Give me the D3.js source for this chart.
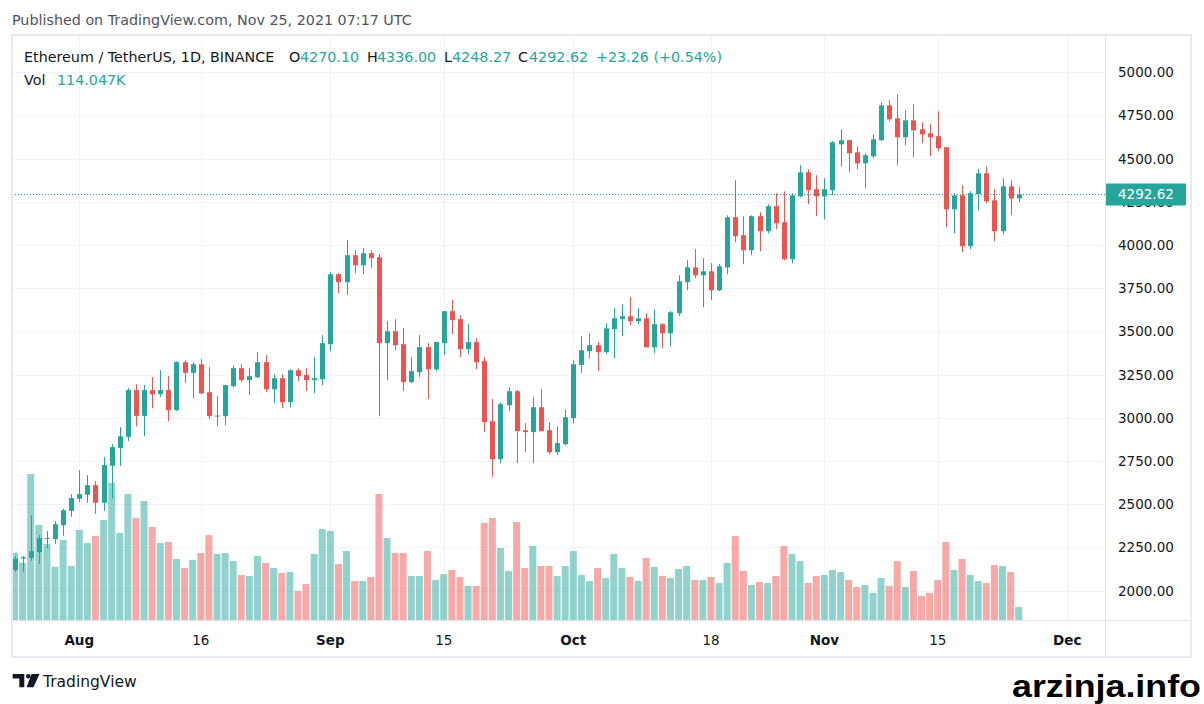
<!DOCTYPE html>
<html><head>
<meta charset="utf-8"/>
<title>ETH/USDT 1D</title>
<script src="https://d3js.org/d3.v7.min.js"></script>
<style>
  body {margin:0; padding:0; width:1204px; height:704px; background:#fff; overflow:hidden;}
  svg text {font-family: 'DejaVu Sans', sans-serif;}
</style>
</head>
<body>
<div id="chart"></div>
<script>
// ETH/USDT daily candles, Jul 24 - Nov 25 2021
const firstDay = Date.UTC(2021, 6, 24);
const lastDay = Date.UTC(2021, 10, 26);

const opens = [
  2118,2185,2189,2222,2298,2297,2378,2461,
  2531,2554,2610,2508,2722,2826,2890,3160,3011,3160,
  3136,3160,3044,3322,3260,3310,3148,3009,3009,3183,
  3287,3218,3235,3322,3165,3229,3090,3275,3247,3218,3223,
  3426,3831,3785,3941,3883,3953,3929,3432,3501,3426,
  3206,3264,3409,3281,3432,3617,3571,3397,3438,3328,
  2980,2760,3073,3154,2928,2917,3061,2928,2801,2847,
  2998,3306,3385,3420,3380,3513,3571,3588,3559,3576,
  3408,3542,3489,3605,3785,3871,3825,3848,3738,3871,
  4161,4057,3970,4167,4080,4225,4132,3918,4282,4421,4323,
  4282,4317,4583,4607,4537,4473,4514,4607,4809,4734,
  4624,4722,4670,4647,4630,4566,4207,4288,3993,4294,
  4415,4259,4080,4340,4270.10
];
const highs = [
  2199,2199,2436,2320,2344,2402,2473,2558,
  2697,2668,2633,2772,2847,2946,3171,3194,3189,3235,
  3275,3241,3327,3333,3322,3339,3293,3125,3189,3304,
  3310,3287,3380,3362,3252,3252,3281,3287,3287,3351,3478,
  3843,3837,4028,3970,3982,3970,3947,3559,3571,3519,
  3351,3478,3432,3438,3617,3681,3594,3542,3461,3351,
  3108,3090,3177,3160,2969,3119,3166,2975,2951,3050,
  3333,3472,3489,3438,3547,3634,3657,3698,3634,3605,
  3628,3547,3617,3825,3912,3976,3924,3895,3889,4172,
  4375,4167,4172,4190,4236,4300,4311,4300,4462,4439,4404,
  4387,4601,4670,4607,4572,4531,4641,4826,4838,4873,
  4780,4815,4711,4699,4774,4566,4300,4346,4311,4439,
  4456,4323,4387,4375,4336.00
];
const lows = [
  2108,2108,2172,2153,2245,2270,2317,2427,
  2511,2508,2444,2461,2531,2722,2866,2951,2893,3055,
  3121,2980,3038,3202,3113,3136,2992,2951,2957,3177,
  3206,3131,3229,3148,3084,3055,3061,3212,3154,3142,3189,
  3387,3721,3710,3837,3831,3866,3009,3218,3391,3154,
  3200,3235,3108,3270,3362,3484,3351,3368,3281,2917,
  2656,2737,3038,2737,2801,2737,2922,2789,2784,2841,
  2969,3260,3345,3270,3368,3345,3472,3536,3542,3408,
  3374,3403,3414,3588,3738,3808,3640,3681,3733,3831,
  4016,3889,3941,3964,4068,4091,3912,3895,4277,4236,4167,
  4149,4288,4456,4421,4439,4329,4502,4601,4716,4462,
  4578,4508,4589,4514,4543,4103,4068,3958,3976,4201,
  4242,4022,4062,4172,4248.27
];
const closes = [
  2185,2193,2228,2303,2303,2384,2465,2535,
  2558,2610,2508,2726,2830,2893,3160,3011,3160,3136,
  3160,3044,3322,3260,3310,3142,3009,3013,3189,3287,
  3218,3241,3322,3165,3229,3090,3275,3241,3218,3229,3432,
  3831,3785,3941,3883,3953,3924,3432,3501,3420,3206,
  3270,3409,3281,3438,3617,3565,3397,3438,3322,2975,
  2760,3079,3154,2923,2917,3061,2922,2801,2853,3003,
  3310,3391,3420,3380,3518,3576,3588,3559,3576,3408,
  3542,3489,3611,3790,3871,3825,3848,3738,3877,4161,
  4051,3970,4167,4080,4225,4126,3918,4288,4421,4317,4282,
  4323,4595,4607,4531,4473,4520,4612,4809,4728,4624,
  4722,4664,4641,4624,4560,4207,4288,3993,4300,4415,
  4253,4080,4340,4269.36,4292.62
];
// volume in thousands of ETH
const volumes = [
  590,503,1280,833,667,465,702,474,
  789,675,737,877,1202,763,1105,895,1044,816,
  675,684,535,456,526,588,745,579,588,517,
  395,386,561,500,456,412,421,254,316,579,798,
  781,491,605,342,342,377,1105,719,588,588,
  386,386,605,351,403,439,377,298,298,851,
  895,631,430,859,456,649,474,474,386,474,
  605,395,342,456,368,579,456,377,342,544,
  465,386,368,447,474,351,351,377,324,500,
  737,430,307,333,324,386,649,579,517,324,386,
  395,439,421,351,289,307,237,368,298,517,
  289,430,210,237,351,684,439,535,395,342,
  324,482,474,421,114.047
];

const priceTicks = [2000,2250,2500,2750,3000,3250,3500,3750,4000,4250,4500,4750,5000];
const timeTicks = ["2021-08-01","2021-08-16","2021-09-01","2021-09-15","2021-10-01","2021-10-18","2021-11-01","2021-11-15","2021-12-01"];
const timeLabels = ["Aug","16","Sep","15","Oct","18","Nov","15","Dec"];
const monthTick = [true,false,true,false,true,false,true,false,true];

const UP = "#26a69a", DOWN = "#ef5350";
const UP_VOL = "rgba(38,166,154,0.5)", DOWN_VOL = "rgba(239,83,80,0.5)";
const TEXT = "#131722";

const days = d3.utcDay.range(firstDay, lastDay);
const candles = days.map((d, i) => ({
  date: d, o: opens[i], h: highs[i], l: lows[i], c: closes[i], v: volumes[i]
}));

// frame geometry
const frame = {left: 12, top: 35, right: 1191, bottom: 657};
const plotRight = 1105, plotBottom = 620;

const x = d3.scaleUtc()
  .domain([new Date("2021-08-01T00:00Z"), new Date("2021-12-01T00:00Z")])
  .range([79.3, 1067.3]);
const y = d3.scaleLinear().domain([2000, 5000]).range([590.5, 72.3]);
const yVol = d3.scaleLinear().domain([0, 1500]).range([plotBottom, plotBottom - 171]);

const svg = d3.select("#chart").append("svg")
  .attr("width", 1204).attr("height", 704);

svg.append("defs").append("clipPath").attr("id", "plot")
  .append("rect")
  .attr("x", frame.left + 1).attr("y", frame.top + 1)
  .attr("width", plotRight - frame.left - 1).attr("height", plotBottom - frame.top - 1);

// header
svg.append("text")
  .attr("x", 12).attr("y", 25)
  .style("font-size", "14.3px").attr("fill", "#50535e")
  .text("Published on TradingView.com, Nov 25, 2021 07:17 UTC");

// grid
const grid = svg.append("g").attr("clip-path", "url(#plot)");
grid.selectAll(".hg").data(priceTicks).enter().append("line")
  .attr("x1", frame.left).attr("x2", plotRight)
  .attr("y1", d => Math.round(y(d)) + 0.5).attr("y2", d => Math.round(y(d)) + 0.5)
  .attr("stroke", "#f0f3fa");
grid.selectAll(".vg").data(timeTicks).enter().append("line")
  .attr("x1", d => Math.round(x(new Date(d + "T00:00Z"))) + 0.5)
  .attr("x2", d => Math.round(x(new Date(d + "T00:00Z"))) + 0.5)
  .attr("y1", frame.top).attr("y2", plotBottom)
  .attr("stroke", "#f0f3fa");

const plot = svg.append("g").attr("clip-path", "url(#plot)");

// volume bars
plot.selectAll(".vol").data(candles).enter().append("rect")
  .attr("x", d => x(d.date) - 3.5)
  .attr("width", 7)
  .attr("y", d => yVol(d.v))
  .attr("height", d => yVol(0) - yVol(d.v))
  .attr("fill", d => d.c >= d.o ? UP_VOL : DOWN_VOL);

// wicks
plot.selectAll(".wick").data(candles).enter().append("line")
  .attr("x1", d => Math.round(x(d.date)) + 0.5)
  .attr("x2", d => Math.round(x(d.date)) + 0.5)
  .attr("y1", d => y(d.h)).attr("y2", d => y(d.l))
  .attr("stroke", d => d.c >= d.o ? UP : DOWN)
  .attr("stroke-width", 1);

// bodies
plot.selectAll(".body").data(candles).enter().append("rect")
  .attr("x", d => Math.round(x(d.date)) - 2)
  .attr("width", 5)
  .attr("y", d => y(Math.max(d.o, d.c)))
  .attr("height", d => Math.max(1, Math.abs(y(d.o) - y(d.c))))
  .attr("fill", d => d.c >= d.o ? UP : DOWN);

const last = candles[candles.length - 1];
const prev = candles[candles.length - 2];

// last price dotted line
svg.append("line")
  .attr("x1", frame.left).attr("x2", plotRight)
  .attr("y1", Math.round(y(last.c)) + 0.5).attr("y2", Math.round(y(last.c)) + 0.5)
  .attr("stroke", UP).attr("stroke-dasharray", "1,2");

// frame and separators
svg.append("rect")
  .attr("x", frame.left).attr("y", frame.top)
  .attr("width", frame.right - frame.left).attr("height", frame.bottom - frame.top)
  .attr("fill", "none").attr("stroke", "#e0e3eb").attr("stroke-width", 1.5);
svg.append("line")
  .attr("x1", plotRight + 0.5).attr("x2", plotRight + 0.5)
  .attr("y1", frame.top).attr("y2", frame.bottom)
  .attr("stroke", "#e0e3eb");
svg.append("line")
  .attr("x1", frame.left).attr("x2", frame.right)
  .attr("y1", plotBottom + 0.5).attr("y2", plotBottom + 0.5)
  .attr("stroke", "#e0e3eb");

// price axis labels
svg.selectAll(".pl").data(priceTicks).enter().append("text")
  .attr("x", 1118).attr("y", d => y(d) + 5)
  .style("font-size", "13.5px").attr("fill", TEXT)
  .text(d => d3.format(".2f")(d));

// last price tag
svg.append("rect")
  .attr("x", plotRight + 1).attr("y", y(last.c) - 11)
  .attr("width", 80).attr("height", 22)
  .attr("rx", 1).attr("fill", UP);
svg.append("text")
  .attr("x", 1118).attr("y", y(last.c) + 5)
  .style("font-size", "13.5px").attr("fill", "#fff")
  .text(d3.format(".2f")(last.c));

// time axis labels
svg.selectAll(".tl").data(timeTicks).enter().append("text")
  .attr("x", d => x(new Date(d + "T00:00Z")))
  .attr("y", 645)
  .attr("text-anchor", "middle")
  .style("font-size", "13.5px")
  .style("font-weight", (d, i) => monthTick[i] ? "bold" : "normal")
  .attr("fill", TEXT)
  .text((d, i) => timeLabels[i]);

// legend
const fmt = d3.format(".2f");
const chg = last.c - prev.c;
const legend = [
  {x: 24, t: "Ethereum / TetherUS, 1D, BINANCE", c: TEXT},
  {x: 289, t: "O", c: TEXT}, {x: 300, t: fmt(last.o), c: UP},
  {x: 367, t: "H", c: TEXT}, {x: 377, t: fmt(last.h), c: UP},
  {x: 444, t: "L", c: TEXT}, {x: 452, t: fmt(last.l), c: UP},
  {x: 518, t: "C", c: TEXT}, {x: 529, t: fmt(last.c), c: UP},
  {x: 596, t: `+${fmt(chg)} (+${fmt(chg / prev.c * 100)}%)`, c: UP}
];
svg.selectAll(".lg").data(legend).enter().append("text")
  .attr("x", d => d.x).attr("y", 62)
  .style("font-size", "14.3px").attr("fill", d => d.c)
  .text(d => d.t);
svg.append("text").attr("x", 24).attr("y", 85)
  .style("font-size", "14.3px").attr("fill", TEXT).text("Vol");
svg.append("text").attr("x", 57).attr("y", 85)
  .style("font-size", "14.3px").attr("fill", UP)
  .text(d3.format(".3f")(last.v) + "K");

// TradingView logo
const logo = svg.append("g").attr("fill", TEXT);
logo.append("path").attr("d", "M12.7,674 H24.3 V687.3 H19.3 V678.5 H12.7 Z");
logo.append("circle").attr("cx", 28.3).attr("cy", 676.3).attr("r", 2.3);
logo.append("path").attr("d", "M31.5,674 H39.5 L33.5,687.3 H26.5 Z");
svg.append("text").attr("x", 43).attr("y", 687)
  .style("font-size", "15.5px").attr("fill", TEXT).text("TradingView");

// watermark
svg.append("text").attr("x", 1012).attr("y", 697)
  .style("font-family", "'Liberation Sans', Arial, sans-serif")
  .style("font-size", "31px").style("font-weight", "bold")
  .attr("textLength", 189).attr("lengthAdjust", "spacingAndGlyphs")
  .attr("fill", "#000").text("arzinja.info");
</script>
</body></html>
